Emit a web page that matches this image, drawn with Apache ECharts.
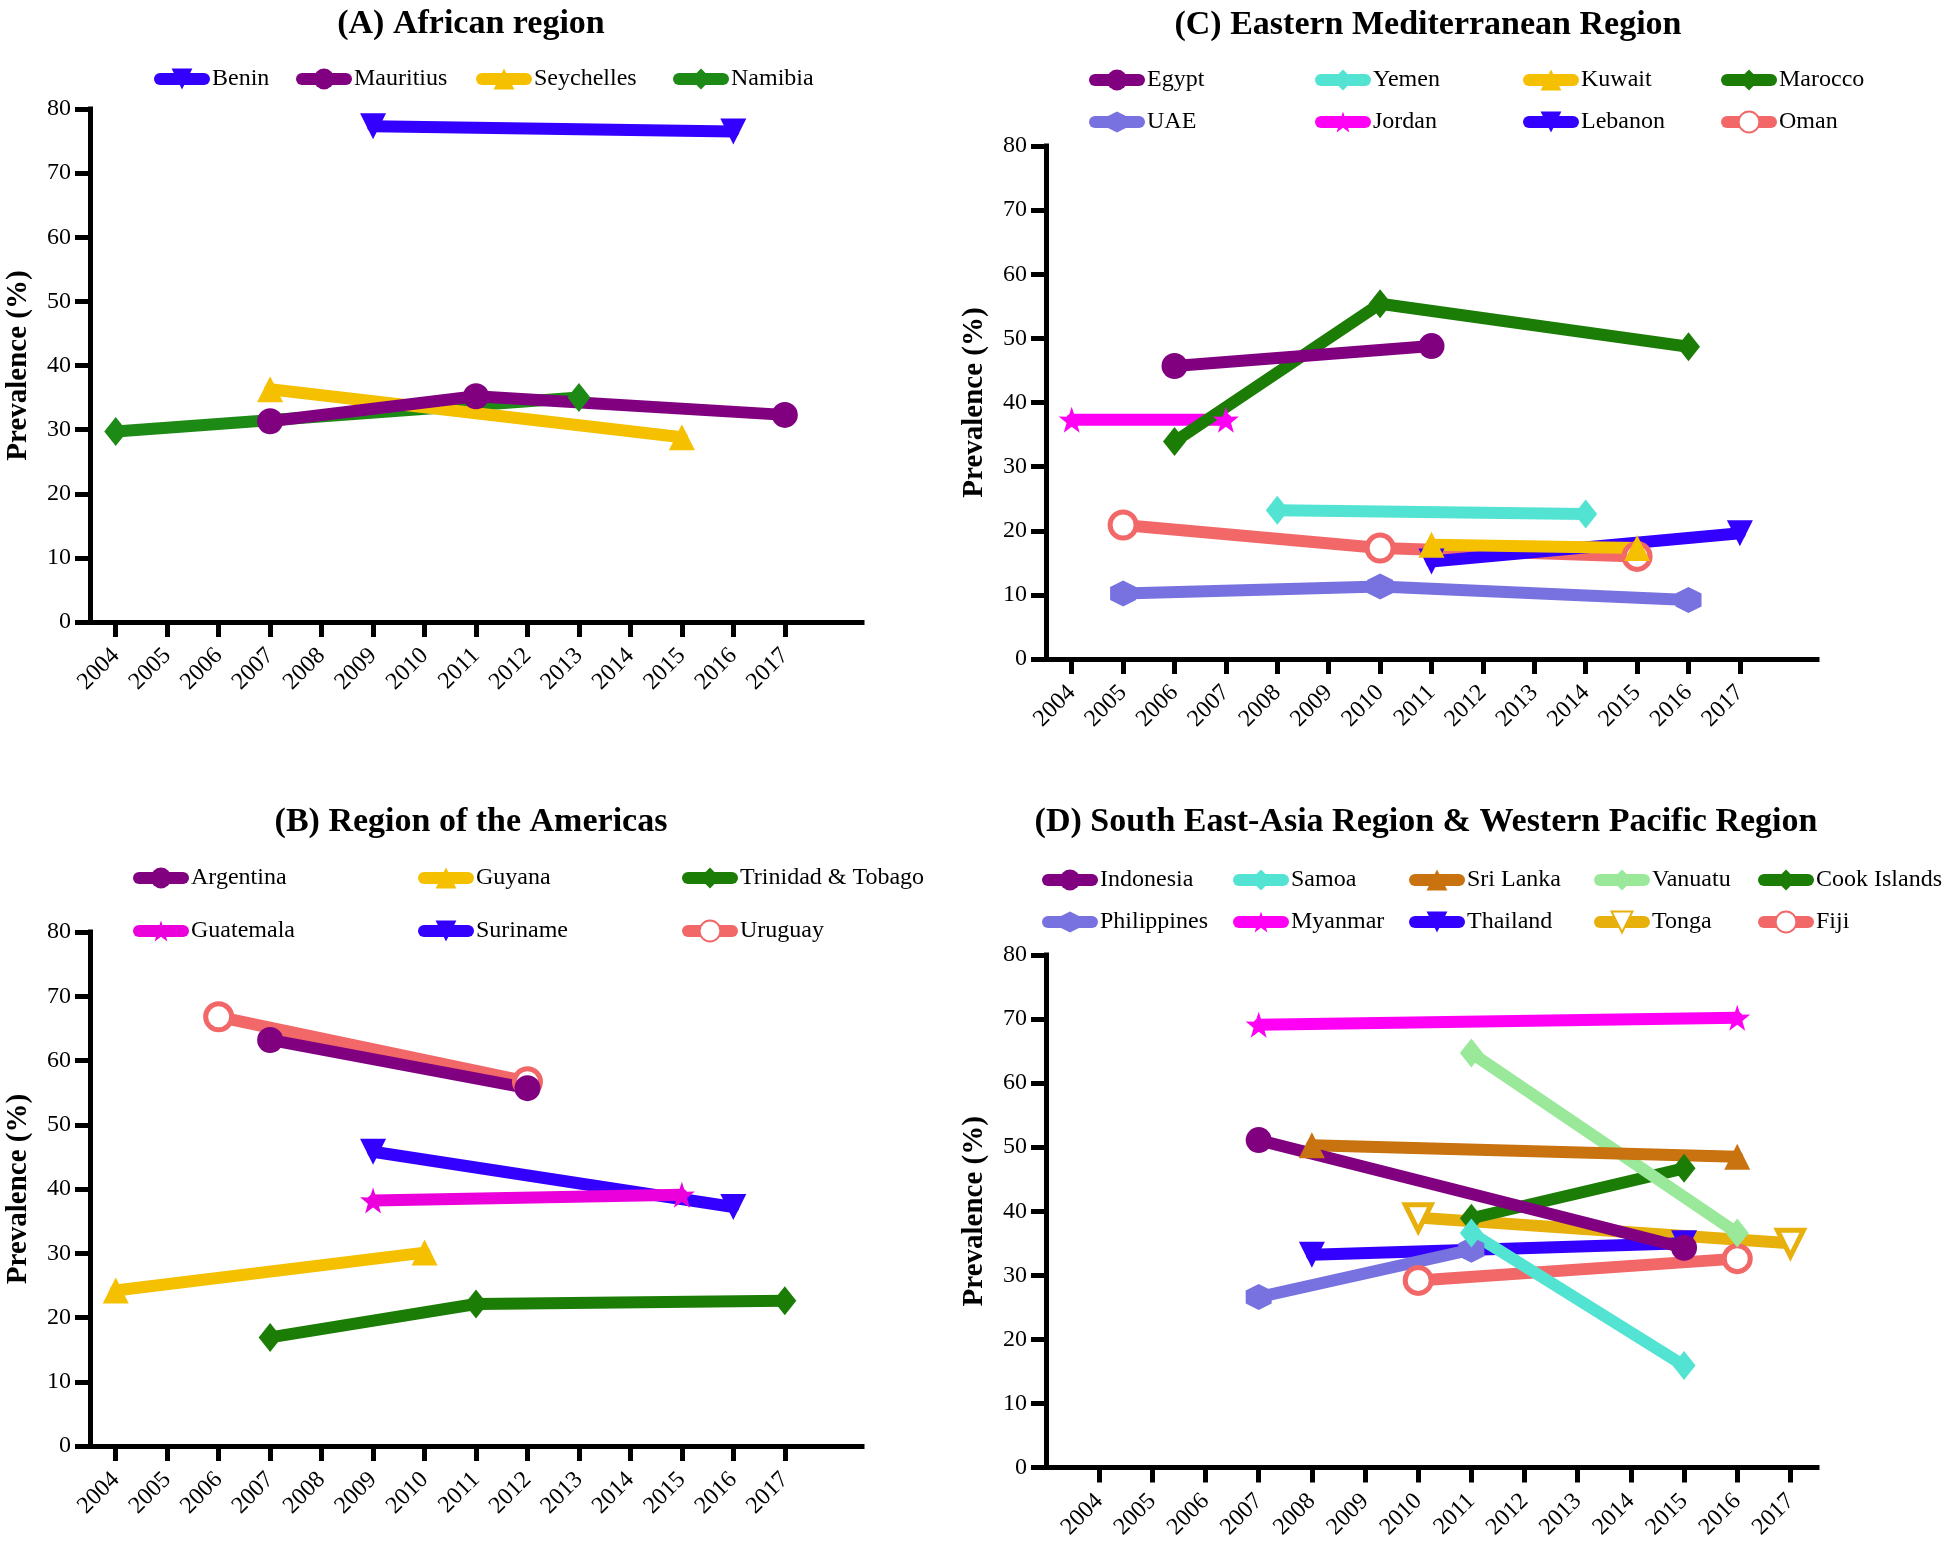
<!DOCTYPE html>
<html>
<head>
<meta charset="utf-8">
<title>Prevalence by WHO region</title>
<script src="https://cdn.jsdelivr.net/npm/echarts@6/dist/echarts.min.js"></script>
<style>
  html, body { margin: 0; padding: 0; background: #fff; }
  #main { width: 1944px; height: 1542px; }
</style>
</head>
<body>
<div id="main"></div>
<script>
// x ticks shared by every panel
const years = [2004, 2005, 2006, 2007, 2008, 2009, 2010, 2011, 2012, 2013, 2014, 2015, 2016, 2017];

// (A) African region
const africaNames = ['Benin', 'Mauritius', 'Seychelles', 'Namibia'];
const africaValues = [
    [[2009, 77.3], [2016, 76.5]],
    [[2007, 31.3], [2011, 35.2], [2017, 32.3]],
    [[2007, 36.3], [2015, 28.8]],
    [[2004, 29.7], [2013, 35.0]]
];

// (B) Region of the Americas
const americasNames = ['Argentina', 'Guyana', 'Trinidad & Tobago', 'Guatemala', 'Suriname', 'Uruguay'];
const americasValues = [
    [[2007, 63.2], [2012, 55.7]],
    [[2004, 24.2], [2010, 30.1]],
    [[2007, 16.9], [2011, 22.1], [2017, 22.6]],
    [[2009, 38.2], [2015, 39.1]],
    [[2009, 45.8], [2016, 37.2]],
    [[2006, 66.8], [2012, 56.7]]
];

// (C) Eastern Mediterranean Region
const emroNames = ['Egypt', 'Yemen', 'Kuwait', 'Marocco', 'UAE', 'Jordan', 'Lebanon', 'Oman'];
const emroValues = [
    [[2006, 45.7], [2011, 48.8]],
    [[2008, 23.2], [2014, 22.6]],
    [[2011, 17.8], [2015, 17.3]],
    [[2006, 33.9], [2010, 55.4], [2016, 48.7]],
    [[2005, 10.2], [2010, 11.3], [2016, 9.2]],
    [[2004, 37.3], [2007, 37.3]],
    [[2011, 15.2], [2017, 19.6]],
    [[2005, 20.9], [2010, 17.3], [2015, 16.0]]
];

// (D) South East-Asia Region & Western Pacific Region
const seaNames = ['Indonesia', 'Samoa', 'Sri Lanka', 'Vanuatu', 'Cook Islands',
    'Philippines', 'Myanmar', 'Thailand', 'Tonga', 'Fiji'];
const seaValues = [
    [[2007, 51.1], [2015, 34.3]],
    [[2011, 36.6], [2015, 15.9]],
    [[2008, 50.3], [2016, 48.5]],
    [[2011, 64.7], [2016, 36.6]],
    [[2011, 38.9], [2015, 46.7]],
    [[2007, 26.6], [2011, 34.0]],
    [[2007, 69.1], [2016, 70.2]],
    [[2008, 33.2], [2015, 35.0]],
    [[2010, 39.0], [2017, 35.0]],
    [[2010, 29.2], [2016, 32.6]]
];

// 标记形状
const TRI_DOWN = 'path://M0,0 L20,0 L10,18 Z';
const HEXAGON = 'path://M10,0 L19,5 L19,15 L10,20 L1,15 L1,5 Z';
const STAR = 'path://M50,0 L61.8,35.1 L98.1,34.5 L69.1,56.7 L79.4,91.5 L50,70.5 L20.6,91.5 L30.9,56.7 L1.9,34.5 L38.2,35.1 Z';

// 每个国家的颜色和符号
const looks = {
    'Benin': ['#3300ff', TRI_DOWN],
    'Mauritius': ['#800080', 'circle'],
    'Seychelles': ['#f5c000', 'triangle'],
    'Namibia': ['#1e8a16', 'diamond'],
    'Argentina': ['#800080', 'circle'],
    'Guyana': ['#f5c000', 'triangle'],
    'Trinidad & Tobago': ['#1c7d06', 'diamond'],
    'Guatemala': ['#eb00dc', STAR],
    'Suriname': ['#3300ff', TRI_DOWN],
    'Uruguay': ['#f26868', 'circle', true],
    'Egypt': ['#800080', 'circle'],
    'Yemen': ['#52e3d3', 'diamond'],
    'Kuwait': ['#f5c000', 'triangle'],
    'Marocco': ['#1c7d06', 'diamond'],
    'UAE': ['#7872e0', HEXAGON],
    'Jordan': ['#ff00f5', STAR],
    'Lebanon': ['#3300ff', TRI_DOWN],
    'Oman': ['#f26868', 'circle', true],
    'Indonesia': ['#800080', 'circle'],
    'Samoa': ['#52e3d3', 'diamond'],
    'Sri Lanka': ['#c8730f', 'triangle'],
    'Vanuatu': ['#9ae89a', 'diamond'],
    'Cook Islands': ['#1c7d06', 'diamond'],
    'Philippines': ['#7872e0', HEXAGON],
    'Myanmar': ['#ff00f5', STAR],
    'Thailand': ['#3300ff', TRI_DOWN],
    'Tonga': ['#e8b00c', TRI_DOWN, true],
    'Fiji': ['#f26868', 'circle', true]
};

const FONT = 'Liberation Serif';

// 面板布局
const panels = [
    {
        title: '(A) African region', names: africaNames, values: africaValues,
        titleX: 471, titleY: 24,
        grid: { left: 90, top: 109, width: 772, height: 513 }, xMin: 2003.5, xMax: 2018.5,
        legendX: [154, 296, 476, 673], legendTop: 66, legendGap: 16, cols: 4
    },
    {
        title: '(B) Region of the Americas', names: americasNames, values: americasValues,
        titleX: 471, titleY: 822,
        grid: { left: 90, top: 932, width: 772, height: 514 }, xMin: 2003.5, xMax: 2018.5,
        legendX: [133, 418, 682], legendTop: 865, legendGap: 27, cols: 3
    },
    {
        title: '(C) Eastern Mediterranean Region', names: emroNames, values: emroValues,
        titleX: 1428, titleY: 25,
        grid: { left: 1046, top: 146, width: 771, height: 513 }, xMin: 2003.5, xMax: 2018.5,
        legendX: [1089, 1315, 1523, 1721], legendTop: 67, legendGap: 16, cols: 4
    },
    {
        title: '(D) South East-Asia Region & Western Pacific Region', names: seaNames, values: seaValues,
        titleX: 1426, titleY: 822,
        grid: { left: 1046, top: 955, width: 771, height: 516 }, xMin: 2003, xMax: 2017.5,
        legendX: [1042, 1233, 1409, 1594, 1758], legendTop: 867, legendGap: 16, cols: 5
    }
];

const option = {
    animation: false,
    backgroundColor: '#fff',
    textStyle: { fontFamily: FONT },
    grid: [], xAxis: [], yAxis: [], series: [], legend: [], graphic: []
};

panels.forEach(function (p, i) {
    option.grid.push(p.grid);
    option.graphic.push({
        type: 'text', x: p.titleX, y: p.titleY,
        style: {
            text: p.title, fill: '#000',
            font: 'bold 34px "' + FONT + '"',
            textAlign: 'center', textVerticalAlign: 'middle'
        }
    });
    option.xAxis.push({
        type: 'value', gridIndex: i, min: p.xMin, max: p.xMax,
        axisLine: { onZero: false, lineStyle: { color: '#000', width: 5, cap: 'square' } },
        axisTick: { show: true, customValues: years, length: 15, lineStyle: { color: '#000', width: 5 } },
        axisLabel: {
            customValues: years, rotate: 45, margin: 30,
            fontFamily: FONT, fontSize: 24, color: '#000',
            formatter: function (v) { return String(v); }
        },
        splitLine: { show: false }
    });
    option.yAxis.push({
        type: 'value', gridIndex: i, min: 0, max: 80, interval: 10,
        name: 'Prevalence (%)', nameLocation: 'middle', nameGap: 57,
        nameTextStyle: { fontFamily: FONT, fontSize: 29, fontWeight: 'bold', color: '#000' },
        axisLine: { show: true, lineStyle: { color: '#000', width: 5, cap: 'square' } },
        axisTick: { show: true, length: 15, lineStyle: { color: '#000', width: 5 } },
        axisLabel: { margin: 19, fontFamily: FONT, fontSize: 24, color: '#000' },
        splitLine: { show: false }
    });

    // 后面的系列画在上面，所以倒序加入
    for (let k = p.names.length - 1; k >= 0; k--) {
        const name = p.names[k];
        const look = looks[name];
        const hollow = look[2];
        option.series.push({
            name: name, type: 'line', xAxisIndex: i, yAxisIndex: i,
            data: p.values[k],
            symbol: look[1],
            symbolSize: look[1] === 'diamond' ? [23, 29] : 26,
            showAllSymbol: true,
            lineStyle: { color: look[0], width: 12, cap: 'round' },
            itemStyle: hollow
                ? { color: '#fff', borderColor: look[0], borderWidth: 5 }
                : { color: look[0] },
            emphasis: { disabled: true }
        });
    }

    // 图例按列排列
    const rows = Math.ceil(p.names.length / p.cols);
    for (let c = 0; c < p.cols; c++) {
        const colNames = [];
        for (let r = 0; r < rows; r++) {
            const n = p.names[r * p.cols + c];
            if (n) colNames.push(n);
        }
        option.legend.push({
            orient: 'vertical', left: p.legendX[c], top: p.legendTop,
            padding: 0,
            itemGap: p.legendGap, itemWidth: 44, itemHeight: 26,
            selectedMode: false,
            data: colNames,
            lineStyle: { width: 12, cap: 'round' },
            textStyle: {
                fontFamily: FONT, fontSize: 24, color: '#000',
                lineHeight: 26, padding: [0, 0, 0, 3]
            }
        });
    }
});

const chart = echarts.init(document.getElementById('main'), null, { renderer: 'canvas' });
chart.setOption(option);
window.addEventListener('resize', function () {
    chart.resize();
});
</script>
</body>
</html>
